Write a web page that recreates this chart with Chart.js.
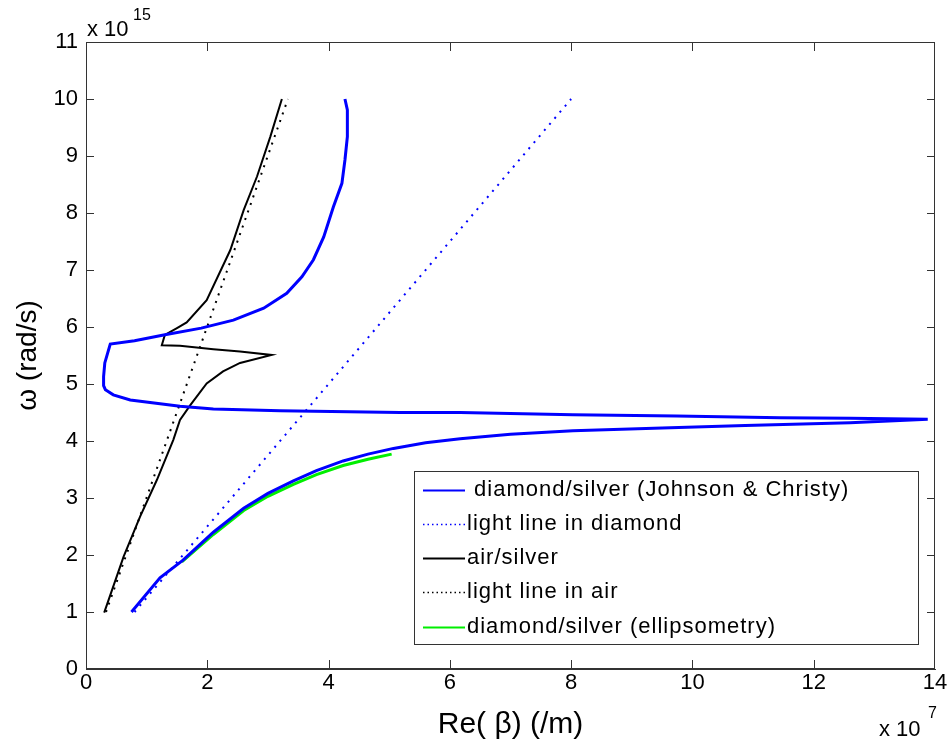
<!DOCTYPE html>
<html>
<head>
<meta charset="utf-8">
<script src="https://cdn.jsdelivr.net/npm/chart.js@4.4.1/dist/chart.umd.min.js"></script>
<style>
  html, body { margin: 0; padding: 0; background: #fff; }
  #wrap { width: 950px; height: 749px; position: relative; }
</style>
</head>
<body>
<div id="wrap"><canvas id="c1"></canvas></div>
<script>
// values: x in units of 1e7 /m, y in units of 1e15 rad/s
const jcBeta = [0.75, 1.22, 1.6, 2.1, 2.6, 3.0, 3.42, 3.8, 4.24, 4.65, 5.07, 5.6, 6.17, 7.0, 8.03, 9.5, 10.87, 12.6, 13.88,
  12.6, 11.45, 9.74, 8.03, 6.17, 5.18, 3.2, 2.1, 1.55, 0.73, 0.45, 0.32, 0.29, 0.29, 0.31, 0.4,
  0.8, 1.28, 1.9, 2.43, 2.93, 3.31, 3.56, 3.75, 3.92, 4.08, 4.22, 4.27, 4.31, 4.31, 4.27];
const jcOmega = [1.0, 1.6, 1.91, 2.4, 2.82, 3.08, 3.3, 3.48, 3.65, 3.77, 3.87, 3.97, 4.04, 4.12, 4.18, 4.23, 4.27, 4.32, 4.38,
  4.4, 4.41, 4.44, 4.46, 4.5, 4.5, 4.53, 4.56, 4.61, 4.72, 4.81, 4.9, 4.97, 5.13, 5.37, 5.7,
  5.76, 5.86, 5.98, 6.12, 6.33, 6.59, 6.88, 7.18, 7.58, 8.11, 8.52, 8.93, 9.34, 9.81, 10.0];

const diaLightBeta = [0.8, 8.0];
const diaLightOmega = [1.0, 10.0];

const airBeta = [0.3, 0.62, 0.89, 1.17, 1.44, 1.55, 1.72, 1.99, 2.26, 2.54, 3.06,
  2.54, 2.1, 1.55, 1.25, 1.3, 1.5, 1.66, 1.99, 2.38, 2.6, 2.82, 3.04, 3.23];
const airOmega = [0.99, 1.97, 2.67, 3.32, 4.02, 4.37, 4.63, 5.01, 5.22, 5.37, 5.51,
  5.57, 5.61, 5.67, 5.68, 5.86, 5.98, 6.08, 6.47, 7.35, 8.05, 8.64, 9.34, 10.0];

const airLightBeta = [0.33, 3.33];
const airLightOmega = [1.0, 10.0];

const ellBeta = [1.58, 2.1, 2.6, 3.0, 3.42, 3.8, 4.24, 4.65, 5.04];
const ellOmega = [1.88, 2.36, 2.78, 3.03, 3.24, 3.41, 3.57, 3.68, 3.77];

const labels = [
  " diamond/silver (Johnson & Christy)",
  "light line in diamond",
  "air/silver",
  "light line in air",
  "diamond/silver (ellipsometry)"
];
const xTicks = [0, 2, 4, 6, 8, 10, 12, 14];
const yTicks = [0, 1, 2, 3, 4, 5, 6, 7, 8, 9, 10, 11];

function pts(xs, ys) {
  return xs.map((x, i) => ({ x: x, y: ys[i] }));
}

const FONT = "'Liberation Sans', Arial, Helvetica, sans-serif";

var datasets = [
  { label: labels[0], data: pts(jcBeta, jcOmega), borderColor: "#0000ff", borderWidth: 3 },
  { label: labels[1], data: pts(diaLightBeta, diaLightOmega), borderColor: "#0000ff", borderWidth: 2, borderDash: [2, 6] },
  { label: labels[2], data: pts(airBeta, airOmega), borderColor: "#000000", borderWidth: 2 },
  { label: labels[3], data: pts(airLightBeta, airLightOmega), borderColor: "#000000", borderWidth: 2, borderDash: [2, 6] },
  { label: labels[4], data: pts(ellBeta, ellOmega), borderColor: "#00ee00", borderWidth: 3 }
];
datasets.forEach(d => {
  d.showLine = true;
  d.pointRadius = 0;
  d.fill = false;
  d.tension = 0;
});

// inward ticks, box frame, exponents and the legend box
const framePlugin = {
  id: "frame",
  afterDatasetsDraw(chart) {
    const ctx = chart.ctx;
    const a = chart.chartArea;
    const xs = chart.scales.x, ys = chart.scales.y;
    ctx.save();
    ctx.strokeStyle = "#333";
    ctx.lineWidth = 1;
    ctx.strokeRect(a.left + 0.5, a.top + 0.5, a.right - a.left - 1, a.bottom - a.top - 1);
    ctx.beginPath();
    xTicks.slice(1, -1).forEach(v => {
      const px = Math.round(xs.getPixelForValue(v)) + 0.5;
      ctx.moveTo(px, a.bottom); ctx.lineTo(px, a.bottom - 9);
      ctx.moveTo(px, a.top); ctx.lineTo(px, a.top + 9);
    });
    yTicks.slice(1, -1).forEach(v => {
      const py = Math.round(ys.getPixelForValue(v)) + 0.5;
      ctx.moveTo(a.left, py); ctx.lineTo(a.left + 8, py);
      ctx.moveTo(a.right, py); ctx.lineTo(a.right - 8, py);
    });
    ctx.stroke();

    // exponent labels
    ctx.fillStyle = "#000";
    ctx.textBaseline = "alphabetic";
    ctx.textAlign = "left";
    ctx.font = "22px " + FONT;
    ctx.fillText("x 10", 87, 36);
    ctx.fillText("x 10", 879, 736);
    ctx.font = "16px " + FONT;
    ctx.fillText("15", 133, 20);
    ctx.fillText("7", 928, 718);

    // legend
    const L = 414, T = 471, R = 918, B = 644;
    ctx.fillStyle = "#fff";
    ctx.fillRect(L, T, R - L, B - T);
    ctx.strokeStyle = "#333";
    ctx.strokeRect(L + 0.5, T + 0.5, R - L, B - T);
    const rowY = [490, 524, 558, 592, 627];
    chart.data.datasets.forEach((d, i) => {
      const y = rowY[i];
      ctx.beginPath();
      ctx.strokeStyle = d.borderColor;
      ctx.lineWidth = d.borderDash ? 1.5 : 2;
      ctx.setLineDash(d.borderDash ? [1.5, 3] : []);
      ctx.moveTo(423, y + 0.5);
      ctx.lineTo(465, y + 0.5);
      ctx.stroke();
      ctx.setLineDash([]);
      ctx.fillStyle = "#000";
      ctx.font = "22px " + FONT;
      ctx.textBaseline = "middle";
      try { ctx.letterSpacing = "1px"; } catch (e) {}
      ctx.fillText(d.label, 467, y);
      try { ctx.letterSpacing = "0px"; } catch (e) {}
    });
    ctx.restore();
  }
};

const ctx = document.getElementById("c1").getContext("2d");
var chart1 = new Chart(ctx, {
  type: "scatter",
  data: { datasets: datasets },
  options: {
    responsive: true,
    maintainAspectRatio: false,
    animation: false,
    layout: { padding: { top: 42, right: 15, left: 0, bottom: 0 } },
    plugins: { legend: { display: false }, tooltip: { enabled: false } },
    scales: {
      x: {
        type: "linear",
        min: 0, max: 14,
        afterFit(s) { s.height = 80; },
        afterBuildTicks(s) { s.ticks = xTicks.map(v => ({ value: v })); },
        ticks: { color: "#000", font: { family: FONT, size: 22 }, padding: 1, maxRotation: 0 },
        grid: { display: true, drawOnChartArea: false, drawTicks: false },
        border: { display: true, color: "#333", width: 1 },
        title: { display: true, text: "Re( β) (/m)", color: "#000", font: { family: FONT, size: 30 }, padding: { top: 0, bottom: 6 } }
      },
      y: {
        type: "linear",
        min: 0, max: 11,
        afterFit(s) { s.width = 86; },
        afterBuildTicks(s) { s.ticks = yTicks.map(v => ({ value: v })); },
        ticks: { color: "#000", font: { family: FONT, size: 22 }, padding: 8 },
        grid: { display: true, drawOnChartArea: false, drawTicks: false },
        border: { display: true, color: "#333", width: 1 },
        title: { display: true, text: "ω (rad/s)", color: "#000", font: { family: FONT, size: 28 }, padding: { top: 11, bottom: 0 } }
      }
    }
  },
  plugins: [framePlugin]
});
</script>
</body>
</html>
